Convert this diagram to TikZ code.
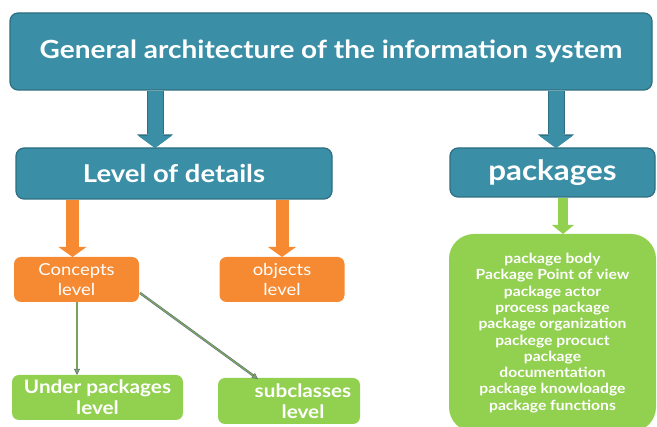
\documentclass[tikz,border=0pt]{standalone}
\usepackage{fontspec}
\setmainfont[FakeStretch=1.12]{Lato}
\usetikzlibrary{arrows.meta}
\definecolor{tealfill}{HTML}{3A8FA6}
\definecolor{tealedge}{HTML}{2D6E80}
\definecolor{orangefill}{HTML}{F68A33}
\definecolor{greenfill}{HTML}{92D050}
\definecolor{thinedge}{HTML}{5E6F8A}
\definecolor{thinfill}{HTML}{7DA35A}
\tikzset{
  tealbox/.style={draw=tealedge,line width=1.2pt,fill=tealfill,rounded corners=8pt,
    text=white,align=center,inner sep=0pt},
  orangebox/.style={fill=orangefill,rounded corners=7pt,text=white,align=center,inner sep=0pt,
    font=\fontsize{16.5}{20}\selectfont},
  greenbox/.style={fill=greenfill,rounded corners=7pt,text=white,align=center,inner sep=0pt,
    font=\fontsize{18.5}{21}\selectfont\bfseries},
  tealarrow/.style={draw=tealfill,line width=15pt,-{Triangle[length=12pt,width=33pt,line width=0pt]},
    preaction={draw=tealedge,line width=17pt,-{Triangle[length=13.5pt,width=36pt,line width=0pt]}}},
  orangearrow/.style={draw=orangefill,line width=13pt,-{Triangle[length=10pt,width=28pt,line width=0pt]}},
  greenarrow/.style={draw=greenfill,line width=10pt,-{Triangle[length=9pt,width=22pt,line width=0pt]}},
  thinarrow/.style={draw=thinedge,double=thinfill,double distance=1.4pt,line width=0.5pt,
    -{Triangle[length=6pt,width=6pt,fill=thinfill,line width=0.5pt]}}
}
\begin{document}
\begin{tikzpicture}[x=1pt,y=-1pt]
  \useasboundingbox (0,0) rectangle (657,427);
  % boxes
  \node[tealbox,minimum width=642pt,minimum height=77pt,font=\fontsize{25}{29}\selectfont\bfseries]
    (arch) at (331,51.5) {General architecture of the information system};
  \node[tealbox,minimum width=316pt,minimum height=51pt,font=\fontsize{24.5}{28}\selectfont\bfseries]
    (lvl) at (174,173.5) {Level of details};
  \node[tealbox,minimum width=205pt,minimum height=49pt,font=\fontsize{28}{32}\selectfont\bfseries]
    (pkg) at (552.5,172.5) {packages};
  \node[orangebox,minimum width=125pt,minimum height=45pt] (conc) at (76.5,279.5) {Concepts\\level};
  \node[orangebox,minimum width=125pt,minimum height=45pt] (obj) at (282,279.5) {objects\\level};
  \node[greenbox,minimum width=171pt,minimum height=45pt] (under) at (97.5,397.5) {Under packages\\level};
  \node[greenbox,minimum width=142pt,minimum height=46pt] (sub) at (289,401)
    {\hspace*{28pt}subclasses\\\hspace*{28pt}level};
  \node[greenbox,rounded corners=25pt,minimum width=207pt,minimum height=198pt,
    font=\fontsize{14}{16.3}\selectfont\bfseries] (list) at (552.5,333)
    {package body\\Package Point of view\\package actor\\process package\\package organization\\
     packege procuct\\package\\documentation\\package knowloadge\\package functions};
  % arrow anchors
  \coordinate (a1) at (155,148);
  \coordinate (a2) at (556,148);
  \coordinate (a3) at (72.5,257);
  \coordinate (a4) at (282,257);
  \coordinate (a5) at (563,234);
  \draw[tealarrow] (arch.south -| a1) -- (a1);
  \draw[tealarrow] (arch.south -| a2) -- (a2);
  \draw[orangearrow] (lvl.south -| a3) -- (a3);
  \draw[orangearrow] (lvl.south -| a4) -- (a4);
  \draw[greenarrow] (pkg.south -| a5) -- (a5);
  \coordinate (c1) at (77,302);
  \coordinate (c2) at (140,293);
  \coordinate (s1) at (258,379);
  \draw[thinarrow] (c1) -- (under.north -| c1);
  \draw[thinarrow] (c2) -- (s1);
\end{tikzpicture}
\end{document}
